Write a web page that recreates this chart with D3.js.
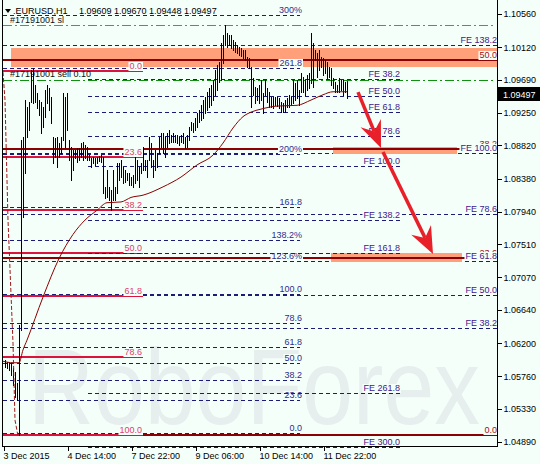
<!DOCTYPE html>
<html><head><meta charset="utf-8">
<script src="https://cdn.jsdelivr.net/npm/d3@7"></script>
<style>
html,body{margin:0;padding:0;background:#F5FFFA;}
svg{display:block;}
text{font-family:"Liberation Sans",Arial,sans-serif;}
</style></head><body>
<svg id="c" width="540" height="464"></svg>
<script>
// ---------------- DATA ----------------
const symbolTitle = ".EURUSD,H1";
const headerOHLC = "1.09609 1.09670 1.09448 1.09497";
const lastPrice = 1.09497;
const firstBarIndex = 1;
const barHigh = [
 1.0598,1.0595,1.0595,1.0594,1.0587,1.0582,1.0567,
 1.0644,1.0889,1.0893,1.0942,
 1.0933,1.0939,1.0982,1.0984,1.0962,1.0951,1.0942,1.0939,1.0933,1.0955,1.0962,1.0958,1.0946,
 1.0893,1.0892,1.0893,1.0885,1.0893,1.0951,1.0946,1.0951,1.0889,1.0880,1.0876,1.0876,
 1.0878,1.0878,1.0885,1.0886,1.0882,1.0880,1.0869,1.0865,1.0867,1.0865,1.0867,1.0868,1.0869,
 1.0867,1.0827,1.0849,1.0827,1.0823,1.0849,1.0827,1.0859,1.0859,1.0863,1.0853,
 1.0849,1.0845,1.0845,1.0840,1.0843,1.0867,1.0863,1.0853,1.0859,1.0880,1.0863,1.0863,
 1.0893,1.0885,1.0863,1.0876,1.0872,1.0893,1.0898,1.0898,1.0893,1.0898,1.0902,1.0896,
 1.0898,1.0896,1.0896,1.0893,1.0896,1.0898,1.0893,1.0896,1.0906,1.0913,1.0912,1.0918,1.0925,1.0929,
 1.0935,1.0942,1.0946,1.0953,1.0958,1.0962,1.0969,1.0982,1.0988,1.0992,1.1018,1.1028,
 1.1041,1.1031,1.1028,1.1028,1.1021,1.1019,1.1015,1.1012,1.1011,1.1008,1.1008,1.0999,1.0998,
 1.0986,1.0971,1.0959,1.0958,1.0962,1.0969,1.0951,1.0969,1.0958,1.0953,1.0946,1.0946,1.0946,
 1.0946,1.0945,1.0939,1.0938,1.0942,1.0945,1.0949,1.0946,1.0969,1.0965,1.0969,1.0955,
 1.0978,1.0972,1.0969,1.0975,1.0978,1.1031,1.1018,1.1008,1.1004,1.1008,1.0999,1.0998,
 1.0995,1.0992,1.0986,1.0984,1.0971,1.0966,1.0962,1.0971,1.0969,1.0969,1.0966,1.0967
];
const barLow = [
 1.0588,1.0587,1.0584,1.0578,1.0564,1.0549,1.0545,
 1.0498,1.0637,1.0787,1.0845,
 1.0893,1.0902,1.0939,1.0938,1.0939,1.0931,1.0922,1.0898,1.0906,1.0919,1.0938,1.0929,1.0912,
 1.0859,1.0867,1.0853,1.0867,1.0872,1.0889,1.0880,1.0902,1.0863,1.0836,1.0849,1.0865,
 1.0860,1.0863,1.0867,1.0863,1.0865,1.0863,1.0863,1.0853,1.0859,1.0856,1.0859,1.0861,1.0860,
 1.0819,1.0812,1.0814,1.0810,1.0796,1.0810,1.0810,1.0819,1.0836,1.0840,1.0832,
 1.0833,1.0836,1.0829,1.0829,1.0827,1.0832,1.0836,1.0827,1.0845,1.0849,1.0849,1.0840,
 1.0863,1.0853,1.0840,1.0849,1.0853,1.0872,1.0880,1.0872,1.0867,1.0880,1.0885,1.0886,
 1.0886,1.0886,1.0885,1.0882,1.0886,1.0885,1.0878,1.0880,1.0889,1.0902,1.0900,1.0902,1.0906,1.0913,
 1.0916,1.0918,1.0925,1.0929,1.0933,1.0935,1.0942,1.0949,1.0955,1.0966,1.0969,1.0991,
 1.1015,1.1012,1.1015,1.1011,1.1008,1.1006,1.1004,1.1002,1.1000,1.0998,1.0995,1.0986,1.0984,
 1.0933,1.0949,1.0938,1.0942,1.0938,1.0942,1.0925,1.0949,1.0939,1.0933,1.0933,1.0931,1.0935,
 1.0934,1.0931,1.0926,1.0926,1.0926,1.0933,1.0933,1.0935,1.0938,1.0942,1.0945,1.0935,
 1.0953,1.0953,1.0949,1.0955,1.0958,1.0965,1.0959,1.0995,1.0972,1.0982,1.0986,1.0975,
 1.0978,1.0971,1.0972,1.0962,1.0958,1.0953,1.0953,1.0953,1.0955,1.0949,1.0953,1.0945
];
const maIndex = [0,5,8,10,12,20,28,35,41,47,52,59,64,70,80,89,97,105,110,115,120,124,129,137,147,154,160,165,172];
const maPrice = [1.0596,1.0594,1.0594,1.0611,1.0624,1.0681,1.0732,1.0764,1.0783,1.0796,1.0806,1.0807,1.0813,1.0816,1.0827,1.0840,1.0856,1.0869,1.0885,1.0905,1.0920,1.0926,1.0930,1.0934,1.0935,1.0942,1.0949,1.0953,1.0953];
const dashIndex = [0,1,2.5,5,6,7.5];
const dashPrice = [1.0979,1.0942,1.0783,1.0620,1.0518,1.0497];

const timeTickIndex = [0,32,64,96,128,160];
const timeTickLabels = ["3 Dec 2015","4 Dec 14:00","7 Dec 22:00","9 Dec 06:00","10 Dec 14:00","11 Dec 22:00"];
const priceTicks = [1.10560,1.10120,1.09690,1.09250,1.08820,1.08380,1.07940,1.07510,1.07070,1.06640,1.06200,1.05760,1.05330,1.04890];

// Fibonacci objects: anchors [price at 0, price at 100], span [from index, to index]
const fibALevels = [0,23.6,38.2,50,61.8,78.6,100,123.6,138.2,161.8,200,261.8,300];
const fibALabels = ["0.0","23.6","38.2","50.0","61.8","78.6","100.0","123.6%","138.2%","161.8","200%","261.8","300%"];
const fibAAnchors = [1.05009,1.06857];
const fibASpan = [0,148.5];
const fibBLevels = [38.2,50,61.8,78.6,100,138.2,161.8,261.8,300];
const fibBLabels = ["FE 38.2","FE 50.0","FE 61.8","FE 78.6","FE 100.0","FE 138.2","FE 161.8","FE 261.8","FE 300.0"];
const fibBAnchors = [1.10407,1.08546];
const fibBSpan = [42.5,198.5];
const fibCLevels = [38.2,50,61.8,78.6,100,138.2];
const fibCLabels = ["FE 38.2","FE 50.0","FE 61.8","FE 78.6","FE 100.0","FE 138.2"];
const fibCAnchors = [1.04969,1.08718];
const fibCSpan = [0,247];
const fibDLevels = [0,23.6,38.2,50,61.8,78.6,100];
const fibDLabels = ["0.0","23.6","38.2","50.0","61.8","78.6","100.0"];
const fibDAnchors = [1.09804,1.04982];
const fibDSpan = [0,70];
const fibELevels = [0,23.6,38.2,50];
const fibELabels = ["0.0","23.6","38.2","50.0"];
const fibEAnchors = [1.04982,1.14918];
const fibESpan = [0,247];

// zones: [from index, to index, top price, bottom price]
const zoneFrom = [4,165,164];
const zoneTo = [247,227,229.5];
const zoneTop = [1.10109,1.08798,1.07393];
const zoneBottom = [1.09857,1.08705,1.07274];

const orderSL = 1.10414, orderOpen = 1.0969;
const orderSLText = "#17191001 sl", orderOpenText = "#17191001 sell 0.10";

// arrows: start index/price, end index/price
const arrowStartIndex = [177.5,190];
const arrowStartPrice = [1.09526,1.08731];
const arrowEndIndex = [189,215];
const arrowEndPrice = [1.08784,1.07380];

const watermarkText = "RoboForex";

// ---------------- DRAW ----------------
const W=540,H=464,BG="#F5FFFA";
const svg=d3.select("#c");
const x=d3.scaleLinear().domain([0,247]).range([3,497]);
const y=d3.scaleLinear().domain([1.10560,1.04890]).range([14,442]);
const NAVY="#1c1c78";

svg.append("rect").attr("width",W).attr("height",H).attr("fill",BG);
svg.append("text").attr("x",28).attr("y",424).attr("font-size",108)
  .attr("fill","#e7eeee").attr("textLength",452).attr("lengthAdjust","spacingAndGlyphs")
  .text(watermarkText);

const gA=svg.append("g").attr("shape-rendering","crispEdges");
function lvlPrice(anch,L){return anch[0]+(anch[1]-anch[0])*L/100;}
function fibLines(g,levels,anch,span,color,width,dash){
  levels.forEach(L=>{
    let yy=Math.round(y(lvlPrice(anch,L)));
    if(width%2===1) yy+=0.5;
    const ln=g.append("line").attr("x1",x(span[0])).attr("x2",x(span[1]))
      .attr("y1",yy).attr("y2",yy).attr("stroke",color).attr("stroke-width",width);
    if(dash) ln.attr("stroke-dasharray",dash);
  });
}
function fibLabels(g,levels,labels,anch,xEnd,color){
  levels.forEach((L,k)=>{
    const yy=Math.round(y(lvlPrice(anch,L)));
    const gg=g.append("g");
    const t=gg.append("text").attr("x",xEnd).attr("y",yy-2).attr("text-anchor","end")
      .attr("font-size",9).attr("fill",color).text(labels[k]);
    const b=t.node().getBBox();
    gg.insert("rect","text").attr("x",b.x-1).attr("y",b.y+1).attr("width",b.width+2)
      .attr("height",b.height-1).attr("fill",BG);
  });
}
fibLines(gA,fibALevels,fibAAnchors,fibASpan,NAVY,1,"4,3");
fibLines(gA,fibCLevels,fibCAnchors,fibCSpan,NAVY,1,"4,3");
[[orderSL,"#e2542a"],[orderOpen,"#109010"]].forEach(([p,c])=>{
  const yy=Math.round(y(p))+0.5;
  gA.append("line").attr("x1",x(0)).attr("x2",x(245)).attr("y1",yy).attr("y2",yy)
    .attr("stroke",c).attr("stroke-width",1).attr("stroke-dasharray","9,3,2,3");
});
zoneFrom.forEach((f,k)=>{
  gA.append("rect").attr("x",x(f)).attr("width",x(zoneTo[k])-x(f))
    .attr("y",Math.round(y(zoneTop[k]))).attr("height",Math.round(y(zoneBottom[k]))-Math.round(y(zoneTop[k])))
    .attr("fill","#FFA07A");
});
fibLines(gA,fibELevels,fibEAnchors,fibESpan,"#8b0000",2,null);
fibLines(gA,fibDLevels,fibDAnchors,fibDSpan,"#dc143c",2,null);
const gL=svg.append("g");
fibLabels(gL,fibALevels,fibALabels,fibAAnchors,x(149.5),"#2e2e8c");
fibLines(gL.append("g").attr("shape-rendering","crispEdges"),fibBLevels,fibBAnchors,fibBSpan,NAVY,1,"4,3");
fibLabels(gL,fibBLevels,fibBLabels,fibBAnchors,x(198.5),"#40208a");
fibLabels(gL,fibELevels,fibELabels,fibEAnchors,x(247),"#a01020");
fibLabels(gL,fibCLevels,fibCLabels,fibCAnchors,x(247),"#40208a");
fibLabels(gL,fibDLevels,fibDLabels,fibDAnchors,x(69.5),"#e0406a");
gL.append("text").attr("x",10).attr("y",Math.round(y(orderSL))-2).attr("font-size",9).attr("fill","#111").text(orderSLText);
gL.append("text").attr("x",10).attr("y",Math.round(y(orderOpen))-3).attr("font-size",9).attr("fill","#111").text(orderOpenText);

const gB=svg.append("g").attr("shape-rendering","crispEdges");
barHigh.forEach((h,k)=>{
  const xx=x(firstBarIndex+k)+0.5;
  gB.append("line").attr("x1",xx).attr("x2",xx).attr("y1",Math.round(y(h))).attr("y2",Math.round(y(barLow[k]))+1)
    .attr("stroke","#000").attr("stroke-width",1);
});
svg.append("path").attr("d",d3.line().x(i=>x(maIndex[i])).y(i=>y(maPrice[i])).curve(d3.curveMonotoneX)(d3.range(maIndex.length)))
  .attr("fill","none").attr("stroke","#8b0000").attr("stroke-width",1);
svg.append("path").attr("d",d3.line().x(i=>x(dashIndex[i])).y(i=>y(dashPrice[i]))(d3.range(dashIndex.length)))
  .attr("fill","none").attr("stroke","#a01818").attr("stroke-width",1).attr("stroke-dasharray","4,2");

const RED="#e8202a";
arrowStartIndex.forEach((s,k)=>{
  const X0=x(s),Y0=y(arrowStartPrice[k]),X1=x(arrowEndIndex[k]),Y1=y(arrowEndPrice[k]);
  const dx=X1-X0,dy=Y1-Y0,len=Math.hypot(dx,dy),ux=dx/len,uy=dy/len,nx=-uy,ny=ux;
  const L=27,Wd=11,N=18;
  svg.append("line").attr("x1",X0).attr("y1",Y0).attr("x2",X1-ux*N).attr("y2",Y1-uy*N)
    .attr("stroke",RED).attr("stroke-width",3.5);
  const pts=[[X1,Y1],[X1-ux*L+nx*Wd,Y1-uy*L+ny*Wd],[X1-ux*N,Y1-uy*N],[X1-ux*L-nx*Wd,Y1-uy*L-ny*Wd]];
  svg.append("polygon").attr("points",pts.map(p=>p.join(",")).join(" ")).attr("fill",RED);
});

const gAx=svg.append("g").attr("shape-rendering","crispEdges");
gAx.append("line").attr("x1",2.5).attr("x2",2.5).attr("y1",0).attr("y2",447).attr("stroke","#000");
gAx.append("line").attr("x1",497.5).attr("x2",497.5).attr("y1",0).attr("y2",447).attr("stroke","#000");
gAx.append("line").attr("x1",2.5).attr("x2",497.5).attr("y1",446.5).attr("y2",446.5).attr("stroke","#000");
const ra=svg.append("g").attr("transform","translate(497.5,0)")
  .call(d3.axisRight(y).tickValues(priceTicks).tickFormat(d3.format(".5f")).tickSize(4).tickPadding(2));
ra.select(".domain").remove();
ra.selectAll("text").attr("font-size",9).attr("font-family","Liberation Sans, Arial, sans-serif").attr("fill","#000");
ra.selectAll("line").attr("shape-rendering","crispEdges");
const ba=svg.append("g").attr("transform","translate(0,446.5)")
  .call(d3.axisBottom(x).tickValues(timeTickIndex).tickFormat((d,i)=>timeTickLabels[i]).tickSize(4).tickPadding(2));
ba.select(".domain").remove();
ba.selectAll("line").attr("transform","translate(0.5,0)").attr("shape-rendering","crispEdges");
ba.selectAll("text").attr("text-anchor","start").attr("x",0).attr("font-size",9)
  .attr("font-family","Liberation Sans, Arial, sans-serif").attr("fill","#000");
const py=Math.round(y(lastPrice));
svg.append("rect").attr("x",498).attr("y",py-7).attr("width",42).attr("height",14).attr("fill","#000");
svg.append("text").attr("x",503).attr("y",py+3.5).attr("font-size",9).attr("fill","#fff").text(d3.format(".5f")(lastPrice));

svg.append("path").attr("d","M5,9L11,9L8,13Z").attr("fill","#000");
svg.append("text").attr("x",13).attr("y",14).attr("font-size",9).attr("fill","#000").text(symbolTitle);
svg.append("text").attr("x",79).attr("y",14).attr("font-size",9).attr("fill","#000").text(headerOHLC);
</script>
</body></html>
